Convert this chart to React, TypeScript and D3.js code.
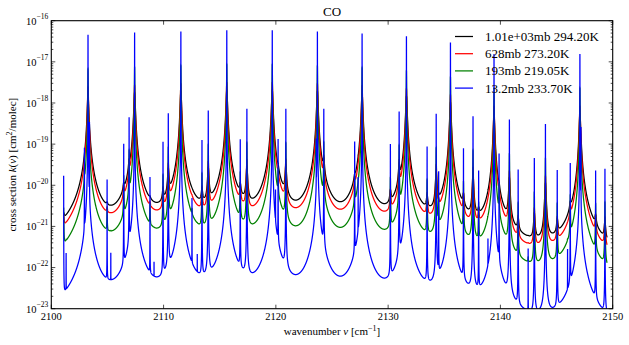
import React from "react";
import * as d3 from "d3";

const WIDTH = 629;
const HEIGHT = 345;
const PLOT = { left: 51.3, right: 612.7, top: 20.7, bottom: 308.7 };

// Line centres (cm^-1)
const lineCenters = [
  2101.10, 2101.32, 2102.95, 2103.27, 2103.40, 2104.97, 2105.30, 2106.45, 2106.93, 2107.42,
  2108.79, 2109.15, 2109.95, 2110.42, 2111.54, 2112.53, 2113.00, 2113.42, 2113.98, 2115.63,
  2116.83, 2117.42, 2119.68, 2119.97, 2120.20, 2120.89, 2123.60, 2123.70, 2124.27, 2127.02,
  2127.33, 2127.68, 2130.20, 2130.98, 2131.63, 2133.47, 2134.28, 2134.50, 2135.55, 2136.71,
  2137.56, 2138.06, 2138.89, 2139.43, 2139.88, 2140.80, 2141.58, 2142.47, 2143.02, 2144.01,
  2145.06, 2145.98, 2146.22, 2147.08, 2147.17, 2148.48, 2149.31,
];
// Peak of each line in the 13.2 mb trace, log10 of cm^2/molec
const lowPressurePeakLog10 = [
  -19.77, -21.71, -19.09, -16.34, -18.47, -19.86, -21.75, -18.99, -18.35, -16.29,
  -19.80, -22.12, -18.94, -18.25, -16.26, -20.32, -21.87, -18.90, -18.18, -16.23,
  -18.88, -18.14, -16.23, -20.19, -18.88, -18.14, -18.90, -16.26, -18.14, -18.94,
  -19.82, -16.31, -19.00, -18.21, -16.38, -19.06, -18.26, -19.66, -16.53, -19.10,
  -18.32, -19.64, -21.41, -16.81, -19.23, -18.40, -19.62, -21.55, -19.34, -18.51,
  -19.63, -21.60, -19.46, -16.81, -18.59, -19.64, -19.60,
];

const seriesLabels = ["1.01e+03mb 294.20K", "628mb 273.20K", "193mb 219.05K", "13.2mb 233.70K"];
const seriesPressureMb = [1013, 628, 193, 13.2];
const seriesTemperatureK = [294.2, 273.2, 219.05, 233.7];
const seriesColors = ["#000000", "#ff0000", "#008000", "#0000ff"];

const spectrumRange = [2101.1, 2149.5];
const xDomain = [2100, 2150];
const xTicks = [2100, 2110, 2120, 2130, 2140, 2150];
const yTickExponents = [-23, -22, -21, -20, -19, -18, -17, -16];

const GAMMA_REF = 0.06; // Lorentz HWHM (cm^-1) at 1013.25 mb, 296 K
const T_EXP = 0.75;
const MOLAR_MASS = 28;

const SQRT_LN2 = Math.sqrt(Math.LN2);
const SQRT_LN2_PI = Math.sqrt(Math.LN2 / Math.PI);

type C = [number, number];
const cmul = (a: C, b: C): C => [a[0] * b[0] - a[1] * b[1], a[0] * b[1] + a[1] * b[0]];
const cdiv = (a: C, b: C): C => {
  const d = b[0] * b[0] + b[1] * b[1];
  return [(a[0] * b[0] + a[1] * b[1]) / d, (a[1] * b[0] - a[0] * b[1]) / d];
};
const horner = (coefs: number[], z: C): C => {
  let r: C = [coefs[0], 0];
  for (let i = 1; i < coefs.length; i++) {
    r = cmul(r, z);
    r[0] += coefs[i];
  }
  return r;
};
const R3N = [0.5642236, 3.778987, 11.96482, 20.20933, 16.4955];
const R3D = [1, 6.699398, 21.69274, 39.27121, 38.82363, 16.4955];
const R4N = [0.56419, -1.320522, 35.76683, -219.0313, 1540.787, -3321.9905, 36183.31];
const R4D = [-1, 1.841439, -61.57037, 364.2191, -2186.181, 9022.228, -24322.84, 32066.6];

// Humlicek (1982) W4: real part of the Faddeeva function
function faddeevaRe(x: number, y: number): number {
  const ax = Math.abs(x);
  const s = ax + y;
  if (s >= 15) {
    const x2 = x * x, y2 = y * y;
    const dr = 0.5 + y2 - x2, di = -2 * x * y;
    return (0.5641896 * y * (0.5 + y2 + x2)) / (dr * dr + di * di);
  }
  const t: C = [y, -x];
  if (s >= 5.5) {
    const u = cmul(t, t);
    const num = cmul(t, [1.410474 + u[0] * 0.5641896, u[1] * 0.5641896]);
    const den = horner([1, 3, 0.75], u);
    return cdiv(num, den)[0];
  }
  if (y >= 0.195 * ax - 0.176) {
    return cdiv(horner(R3N, t), horner(R3D, t))[0];
  }
  const u = cmul(t, t);
  const e = Math.exp(u[0]);
  const expu: C = [e * Math.cos(u[1]), e * Math.sin(u[1])];
  const frac = cdiv(cmul(t, horner(R4N, u)), horner(R4D, u));
  return expu[0] - frac[0];
}

function widths(p: number, T: number, nu: number) {
  const gammaL = GAMMA_REF * (p / 1013.25) * Math.pow(296 / T, T_EXP);
  const alphaD = 3.581e-7 * nu * Math.sqrt(T / MOLAR_MASS);
  return { gammaL, alphaD };
}

function computeSpectra() {
  // line strengths from the observed low-pressure peaks
  const pLow = seriesPressureMb[3];
  const tLow = seriesTemperatureK[3];
  const strengths = lineCenters.map((c, i) => {
    const { gammaL, alphaD } = widths(pLow, tLow, c);
    const peakProfile = (SQRT_LN2_PI / alphaD) * faddeevaRe(0, (SQRT_LN2 * gammaL) / alphaD);
    return Math.pow(10, lowPressurePeakLog10[i]) / peakProfile;
  });

  // wavenumber grid: uniform plus dense sampling around each line core
  const pts: number[] = [];
  const [a, b] = spectrumRange;
  const n = Math.round((b - a) / 0.005);
  for (let i = 0; i <= n; i++) pts.push(a + i * 0.005);
  lineCenters.forEach((c) => {
    for (let k = -40; k <= 40; k++) {
      const v = c + k * 0.0005;
      if (v >= a && v <= b) pts.push(v);
    }
  });
  pts.sort((p, q) => p - q);
  const grid: number[] = [];
  pts.forEach((v) => {
    if (!grid.length || v - grid[grid.length - 1] > 1e-7) grid.push(v);
  });

  return seriesPressureMb.map((p, si) => {
    const T = seriesTemperatureK[si];
    const params = lineCenters.map((c, i) => {
      const { gammaL, alphaD } = widths(p, T, c);
      return {
        c,
        alphaD,
        y: (SQRT_LN2 * gammaL) / alphaD,
        norm: (strengths[i] * SQRT_LN2_PI) / alphaD,
      };
    });
    return grid.map((v) => {
      let k = 0;
      for (let i = 0; i < params.length; i++) {
        const q = params[i];
        k += q.norm * faddeevaRe((SQRT_LN2 * (v - q.c)) / q.alphaD, q.y);
      }
      return [v, k] as [number, number];
    });
  });
}

const FONT = "'Liberation Serif', 'DejaVu Serif', serif";

export default function App() {
  const spectra = React.useMemo(() => computeSpectra(), []);
  const x = d3.scaleLinear().domain(xDomain).range([PLOT.left, PLOT.right]);
  const y = d3.scaleLog().domain([1e-23, 1e-16]).range([PLOT.bottom, PLOT.top]);
  const line = d3
    .line<[number, number]>()
    .x((d) => x(d[0]))
    .y((d) => y(Math.max(d[1], 1e-25)));

  const minorTicks: number[] = [];
  yTickExponents.slice(0, -1).forEach((e) => {
    for (let m = 2; m <= 9; m++) minorTicks.push(m * Math.pow(10, e));
  });

  const cx = (PLOT.left + PLOT.right) / 2;
  const cy = (PLOT.top + PLOT.bottom) / 2;

  return (
    <svg
      width={WIDTH}
      height={HEIGHT}
      style={{ position: "absolute", left: 0, top: 0, background: "#fff" }}
      fontFamily={FONT}
    >
      <rect x={0} y={0} width={WIDTH} height={HEIGHT} fill="#fff" />
      <defs>
        <clipPath id="plotclip">
          <rect x={PLOT.left} y={PLOT.top} width={PLOT.right - PLOT.left} height={PLOT.bottom - PLOT.top} />
        </clipPath>
      </defs>
      <g clipPath="url(#plotclip)">
        {spectra.map((s, i) => (
          <path key={i} d={line(s) || ""} fill="none" stroke={seriesColors[i]} strokeWidth={1.25} />
        ))}
      </g>
      {/* frame */}
      <rect
        x={PLOT.left}
        y={PLOT.top}
        width={PLOT.right - PLOT.left}
        height={PLOT.bottom - PLOT.top}
        fill="none"
        stroke="#000"
        strokeWidth={1.1}
      />
      {/* x ticks */}
      {xTicks.map((t) => (
        <g key={"x" + t}>
          <line x1={x(t)} x2={x(t)} y1={PLOT.bottom} y2={PLOT.bottom - 4} stroke="#000" strokeWidth={0.7} />
          <line x1={x(t)} x2={x(t)} y1={PLOT.top} y2={PLOT.top + 4} stroke="#000" strokeWidth={0.7} />
          <text x={x(t)} y={PLOT.bottom + 11} fontSize={10.5} textAnchor="middle">
            {t}
          </text>
        </g>
      ))}
      {/* y ticks */}
      {yTickExponents.map((e) => {
        const yy = y(Math.pow(10, e));
        return (
          <g key={"y" + e}>
            <line x1={PLOT.left} x2={PLOT.left + 4} y1={yy} y2={yy} stroke="#000" strokeWidth={0.7} />
            <line x1={PLOT.right} x2={PLOT.right - 4} y1={yy} y2={yy} stroke="#000" strokeWidth={0.7} />
            <text x={PLOT.left - 3} y={yy + 3.8} fontSize={10.5} textAnchor="end">
              <tspan>10</tspan>
              <tspan fontSize={7.5} dy={-5.5}>
                {"\u2212" + Math.abs(e)}
              </tspan>
            </text>
          </g>
        );
      })}
      {minorTicks.map((v, i) => (
        <g key={"m" + i}>
          <line x1={PLOT.left} x2={PLOT.left + 2} y1={y(v)} y2={y(v)} stroke="#000" strokeWidth={0.7} />
          <line x1={PLOT.right} x2={PLOT.right - 2} y1={y(v)} y2={y(v)} stroke="#000" strokeWidth={0.7} />
        </g>
      ))}
      {/* title */}
      <text x={cx} y={16} fontSize={13} textAnchor="middle">
        CO
      </text>
      {/* axis labels */}
      <text x={cx} y={335} fontSize={11} textAnchor="middle">
        <tspan>wavenumber </tspan>
        <tspan fontStyle="italic">ν</tspan>
        <tspan> [cm</tspan>
        <tspan fontSize={8} dy={-4.5}>
          {"\u22121"}
        </tspan>
        <tspan dy={4.5}>]</tspan>
      </text>
      <text x={0} y={0} fontSize={11} textAnchor="middle" transform={`translate(16,${cy}) rotate(-90)`}>
        <tspan>cross section </tspan>
        <tspan fontStyle="italic">k</tspan>
        <tspan>(</tspan>
        <tspan fontStyle="italic">ν</tspan>
        <tspan>) [cm</tspan>
        <tspan fontSize={8} dy={-4.5}>
          2
        </tspan>
        <tspan dy={4.5}>/molec]</tspan>
      </text>
      {/* legend */}
      {seriesLabels.map((lab, i) => {
        const ly = 36.5 + i * 17.2;
        return (
          <g key={"l" + i}>
            <line x1={455} x2={473} y1={ly} y2={ly} stroke={seriesColors[i]} strokeWidth={1.25} />
            <text x={485} y={ly + 4.5} fontSize={13}>
              {lab}
            </text>
          </g>
        );
      })}
    </svg>
  );
}
